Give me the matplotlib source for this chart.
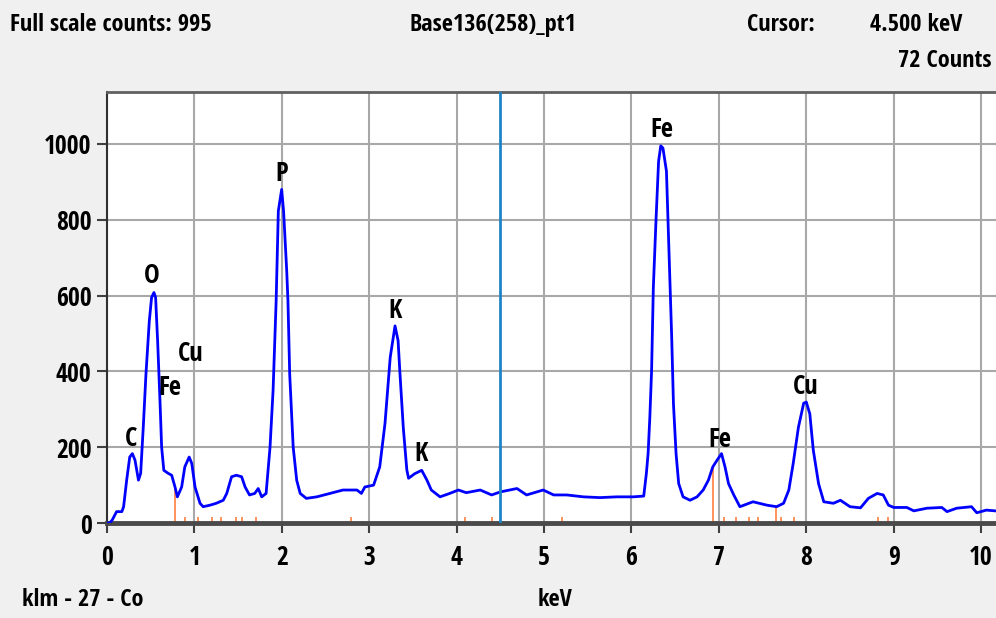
"""
EDS spectrum, Base136(258)_pt1
"""
import matplotlib
matplotlib.use("Agg")
import matplotlib.pyplot as plt
from matplotlib import font_manager

# spectrum (keV, counts)
energy = [
    0.00, 0.03, 0.06, 0.11, 0.17, 0.19, 0.225, 0.26, 0.29, 0.32, 0.36, 0.385,
    0.415, 0.446, 0.484, 0.51, 0.537, 0.556, 0.579, 0.606, 0.625, 0.65, 0.70,
    0.74, 0.778, 0.805, 0.854, 0.89, 0.94, 0.97, 1.007, 1.064, 1.10, 1.178,
    1.25, 1.33, 1.37, 1.425, 1.48, 1.54, 1.58, 1.63, 1.69, 1.73, 1.77, 1.82,
    1.865, 1.90, 1.935, 1.96, 1.998, 2.02, 2.056, 2.07, 2.09, 2.13, 2.17, 2.21,
    2.28, 2.40, 2.55, 2.70, 2.86, 2.91, 2.95, 3.05, 3.12, 3.18, 3.24, 3.295,
    3.33, 3.35, 3.39, 3.43, 3.45, 3.52, 3.60, 3.66, 3.71, 3.81, 3.92, 4.02,
    4.11, 4.27, 4.40, 4.50, 4.69, 4.80, 4.99, 5.11, 5.26, 5.45, 5.64, 5.83,
    6.02, 6.14, 6.17, 6.19, 6.21, 6.23, 6.25, 6.28, 6.31, 6.335, 6.36, 6.40,
    6.43, 6.46, 6.48, 6.51, 6.54, 6.59, 6.67, 6.75, 6.82, 6.88, 6.93, 6.98,
    7.03, 7.07, 7.11, 7.17, 7.24, 7.39, 7.55, 7.66, 7.74, 7.80, 7.85, 7.91,
    7.97, 8.00, 8.04, 8.08, 8.14, 8.20, 8.31, 8.39, 8.50, 8.62, 8.71, 8.81,
    8.88, 8.94, 9.00, 9.15, 9.23, 9.38, 9.55, 9.61, 9.72, 9.89, 9.95, 10.06,
    10.16,
]
counts = [
    0, 0, 8, 30, 30, 43, 113, 174, 183, 166, 113, 131,
    253, 394, 533, 595, 608, 595, 481, 323, 200, 139, 131,
    126, 95, 69, 95, 148, 174, 157, 95, 52, 43, 47,
    52, 60, 78, 122, 126, 122, 95, 74, 78, 91, 69, 78,
    200, 350, 586, 823, 880, 823, 665, 586, 393, 200, 113, 78,
    65, 69, 78, 87, 87, 78, 95, 100, 148, 262, 437, 520,
    481, 400, 250, 140, 118, 130, 139, 113, 87, 69, 78, 87,
    80, 87, 74, 82, 91, 74, 87, 74, 74, 69, 67, 69,
    69, 71, 130, 183, 279, 402, 621, 796, 954, 995, 989, 928,
    709, 490, 315, 183, 104, 69, 60, 69, 87, 113, 148, 166,
    183, 148, 104, 74, 43, 56, 47, 43, 52, 87, 157, 253,
    316, 319, 288, 192, 104, 56, 52, 60, 43, 40, 65, 78,
    74, 47, 41, 41, 32, 39, 41, 30, 39, 43, 27, 34,
    32,
]

# KLM line markers (orange)
marker_long_e = [0.777, 6.93, 7.65]
marker_long_h = [93, 148, 45]
marker_short_e = [0.89, 1.04, 1.20, 1.30, 1.48, 1.55, 1.70, 2.79, 4.09, 4.40,
                  5.20, 7.06, 7.19, 7.35, 7.45, 7.71, 7.86, 8.82, 8.94]
marker_short_h = 16

# peak labels
label_text = ["C", "O", "Fe", "Cu", "P", "K", "K", "Fe", "Fe", "Cu"]
label_e = [0.275, 0.515, 0.72, 0.96, 2.0, 3.295, 3.59, 6.35, 7.01, 7.99]
label_c = [223, 654, 357, 447, 922, 560, 184, 1038, 220, 360]

cursor_kev = 4.5
x_ticks = list(range(0, 11))
y_ticks = [0, 200, 400, 600, 800, 1000]

available = {f.name for f in font_manager.fontManager.ttflist}
family = [f for f in ["Liberation Sans Narrow", "Open Sans Condensed", "Roboto Condensed",
                      "DejaVu Sans"] if f in available]
plt.rcParams["font.family"] = family
plt.rcParams["font.stretch"] = "condensed"
plt.rcParams["font.weight"] = "bold"

W, H = 996, 618
fig = plt.figure(figsize=(W / 100, H / 100), dpi=100, facecolor="#f0f0f0")
ax = fig.add_axes([107 / W, 1 - 523 / H, 889 / W, 431 / H])
ax.set_facecolor("white")

ax.set_xlim(0, 10.17)
ax.set_ylim(0, 1137)
ax.set_xticks(x_ticks)
ax.set_yticks(y_ticks)
ax.grid(True, color="#a8a8a8", lw=1.5, zorder=0)
ax.set_axisbelow(True)

ax.tick_params(axis="both", length=7, width=1.5, color="#404040", labelsize=18.5)
ax.tick_params(axis="x", pad=8)
ax.tick_params(axis="y", pad=4)
for lab in ax.get_xticklabels() + ax.get_yticklabels():
    lab.set_fontweight("bold")

ax.spines["right"].set_visible(False)
ax.spines["left"].set_color("#303030")
ax.spines["left"].set_linewidth(1.5)
ax.spines["top"].set_color("#606060")
ax.spines["top"].set_linewidth(2)
ax.spines["bottom"].set_color("#4a4a4a")
ax.spines["bottom"].set_linewidth(3.5)

# orange line markers
ax.vlines(marker_long_e, 0, marker_long_h, color="#ff7f3f", lw=1.2, zorder=2)
ax.vlines(marker_short_e, 0, marker_short_h, color="#ff7f3f", lw=1.2, zorder=2)

ax.plot(energy, counts, color="#0000ff", lw=2, zorder=3)

# cursor
ax.axvline(cursor_kev, color="#1f84c6", lw=2, zorder=4)

for t, e, c in zip(label_text, label_e, label_c):
    ax.text(e, c, t, ha="center", va="center", fontsize=19, fontweight="bold",
            color="black", zorder=5)

# header / footer texts
fs = 17.5
fig.text(10 / W, 1 - 25 / H, "Full scale counts: 995", fontsize=fs, fontweight="bold",
         ha="left", va="center")
fig.text(493 / W, 1 - 25 / H, "Base136(258)_pt1", fontsize=fs, fontweight="bold",
         ha="center", va="center")
fig.text(747 / W, 1 - 25 / H, "Cursor:", fontsize=fs, fontweight="bold",
         ha="left", va="center")
fig.text(962 / W, 1 - 25 / H, "4.500 keV", fontsize=fs, fontweight="bold",
         ha="right", va="center")
fig.text(991 / W, 1 - 61 / H, "72 Counts", fontsize=fs, fontweight="bold",
         ha="right", va="center")
fig.text(22 / W, 1 - 600 / H, "klm - 27 - Co", fontsize=fs, fontweight="bold",
         ha="left", va="center")
fig.text(555 / W, 1 - 600 / H, "keV", fontsize=fs, fontweight="bold",
         ha="center", va="center")

fig.savefig("out.png", dpi=100, facecolor=fig.get_facecolor())
